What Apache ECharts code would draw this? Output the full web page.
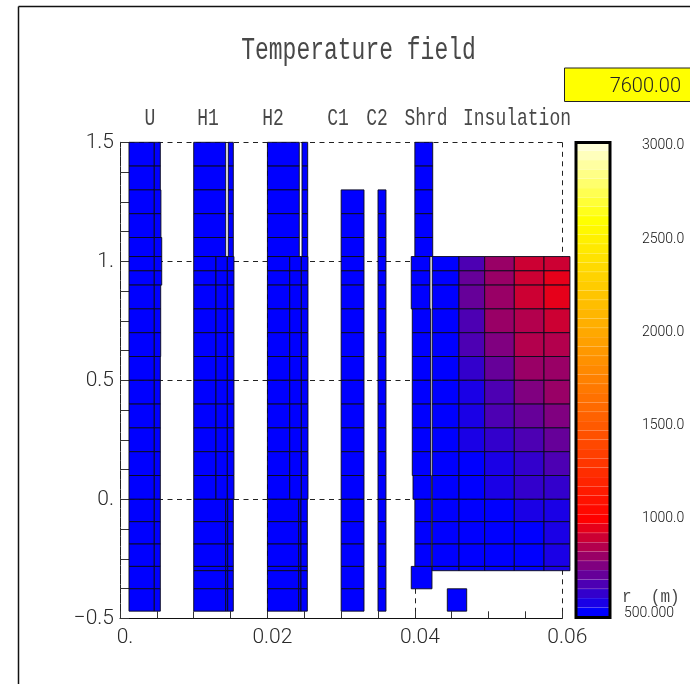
<!DOCTYPE html>
<html>
<head>
<meta charset="utf-8">
<style>html,body{margin:0;padding:0;background:#fff}#chart{width:690px;height:684px}</style>
<script src="https://cdn.jsdelivr.net/npm/echarts@6/dist/echarts.min.js"></script>
</head>
<body>
<div id="chart"></div>
<script>
// ---- Text ----
const chartTitle = 'Temperature field';
const timeValue = '7600.00';
const regionLabels = ['U', 'H1', 'H2', 'C1', 'C2', 'Shrd', 'Insulation'];
const regionLabelCentres = [150, 208, 273, 338, 377, 426, 517];
const xTickLabels = {0: '0.', 0.02: '0.02', 0.04: '0.04', 0.06: '0.06'};
const yTickLabels = {'-0.5': '\u22120.5', 0: '0.', 0.5: '0.5', 1: '1.', 1.5: '1.5'};
const barTicks = [1000, 1500, 2000, 2500, 3000];

// ---- Row edges (m) ----
const upperRows = [1.5, 1.4, 1.3, 1.2, 1.1, 1.02];
const shortUpperRows = [1.3, 1.2, 1.1, 1.02];
const middleRows = [1.02, 0.96, 0.9, 0.8, 0.7, 0.6, 0.5, 0.4, 0.3, 0.2, 0.1, 0];
const lowerRows = [0, -0.094, -0.188, -0.282, -0.376, -0.47];
const coilLowerRows = [0, -0.094, -0.188, -0.282, -0.3, -0.376, -0.47];
const insulationRows = [1.02, 0.96, 0.9, 0.8, 0.7, 0.6, 0.5, 0.4, 0.3, 0.2, 0.1, 0, -0.094, -0.188, -0.282, -0.3];

// ---- Column edges (m) ----
const uMain = [0.00122, 0.00465];
const uOuterRight = [0.00547, 0.00555, 0.00566, 0.00552, 0.00547];
const h1Upper = [[0.01, 0.01434], [0.01469, 0.01537]];
const h1Middle = [0.01, 0.01302, 0.01456, 0.01546];
const h1Lower = [0.01, 0.01434, 0.01461, 0.01537];
const h2Upper = [[0.02, 0.02432], [0.02469, 0.02546]];
const h2Middle = [0.02, 0.02302, 0.0246, 0.0255];
const h2Lower = [0.02, 0.02424, 0.02455, 0.02541];
const c1Cols = [0.03, 0.0331];
const c2Cols = [0.035, 0.03608];
const insulationCols = [0.04236, 0.04599, 0.04947, 0.05349, 0.05752, 0.06104];

// ---- Insulation temperatures, row by row (K) ----
const insulationTemps = [
  [500, 650, 800, 900, 900],
  [500, 700, 800, 900, 950],
  [500, 700, 800, 900, 950],
  [500, 650, 800, 850, 900],
  [500, 650, 750, 850, 850],
  [500, 600, 700, 800, 800],
  [500, 550, 650, 750, 800],
  [500, 550, 650, 700, 750],
  [500, 550, 600, 650, 700],
  [500, 500, 550, 600, 650],
  [500, 500, 550, 600, 600],
  [500, 500, 500, 550, 550],
  [500, 500, 500, 500, 550],
  [500, 500, 500, 500, 550],
  [500, 500, 500, 500, 550]
];

// ---- Colour scale ----
const scaleTemps = [500, 1000, 1500, 2000, 2500, 2600, 3000];
const scaleColors = [[0, 0, 255], [255, 0, 0], [255, 90, 0], [255, 168, 0], [255, 240, 0], [255, 255, 0], [255, 255, 215]];
const barBands = [500, 550, 600, 650, 700, 750, 800, 850, 900, 950, 1000, 1050, 1100, 1150, 1200, 1250, 1300, 1350, 1400, 1450, 1500,
  1550, 1600, 1650, 1700, 1750, 1800, 1850, 1900, 1950, 2000, 2050, 2100, 2150, 2200, 2250, 2300, 2350, 2400, 2450, 2500,
  2550, 2600, 2650, 2700, 2750, 2800, 2850, 2900, 2950, 3000];

function tempColor(t) {
  for (let i = 1; i < scaleTemps.length; i++) {
    if (t <= scaleTemps[i]) {
      const f = (t - scaleTemps[i - 1]) / (scaleTemps[i] - scaleTemps[i - 1]);
      const c = scaleColors[i - 1].map((v, k) => Math.round(v + (scaleColors[i][k] - v) * f));
      return 'rgb(' + c.join(',') + ')';
    }
  }
  return 'rgb(' + scaleColors[scaleColors.length - 1].join(',') + ')';
}

// ---- Build mesh cells: [x0, x1, y0, y1, temperature] ----
const cells = [];
function addGrid(xs, ys, temp) {
  for (let i = 0; i + 1 < xs.length; i++) {
    for (let j = 0; j + 1 < ys.length; j++) {
      cells.push([xs[i], xs[i + 1], ys[j], ys[j + 1], temp]);
    }
  }
}
const cold = 500;
// U
addGrid(uMain, [1.5, 1.4, 1.3, 1.2, 1.1, 1.02, 0.96, 0.9, 0.8, 0.7, 0.6, 0.5, 0.4, 0.3, 0.2, 0.1, 0, -0.094, -0.188, -0.282, -0.376, -0.47], cold);
addGrid([uMain[1], uOuterRight[0]], [1.5, 1.4, 1.3], cold);
addGrid([uMain[1], uOuterRight[1]], [1.3, 1.2, 1.1], cold);
addGrid([uMain[1], uOuterRight[2]], [1.1, 1.02, 0.96, 0.9], cold);
addGrid([uMain[1], uOuterRight[3]], [0.9, 0.8, 0.7, 0.6], cold);
addGrid([uMain[1], uOuterRight[4]], [0.6, 0.5, 0.4, 0.3, 0.2, 0.1, 0, -0.094, -0.188, -0.282, -0.376, -0.47], cold);
// H1
h1Upper.forEach(c => addGrid(c, upperRows, cold));
addGrid(h1Middle, middleRows, cold);
addGrid(h1Lower, coilLowerRows, cold);
// H2
h2Upper.forEach(c => addGrid(c, upperRows, cold));
addGrid(h2Middle, middleRows, cold);
addGrid(h2Lower, coilLowerRows, cold);
// C1, C2
[c1Cols, c2Cols].forEach(c => {
  addGrid(c, shortUpperRows, cold);
  addGrid(c, middleRows, cold);
  addGrid(c, lowerRows, cold);
});
// Shroud
addGrid([0.04, 0.04242], upperRows, cold);
addGrid([0.03951, 0.04205], [1.02, 0.96, 0.9, 0.8], cold);
addGrid([0.03965, 0.04215], [0.8, 0.7, 0.6, 0.5, 0.4, 0.3, 0.2, 0.1], cold);
addGrid([0.03975, 0.04223], [0.1, 0], cold);
addGrid([0.04, 0.04223], [0, -0.094, -0.188, -0.282], cold);
addGrid([0.03951, 0.04232], [-0.282, -0.376], cold);
addGrid([0.0444, 0.04703], [-0.376, -0.47], cold);
// Insulation
insulationTemps.forEach((row, j) => row.forEach((t, i) => {
  cells.push([insulationCols[i], insulationCols[i + 1], insulationRows[j], insulationRows[j + 1], t]);
}));

const mono = '"Liberation Mono", monospace';
const textCol = '#2a2a2a';
const headCol = '#484848';

const chart = echarts.init(document.getElementById('chart'), null, {renderer: 'canvas'});
chart.setOption({
  animation: false,
  backgroundColor: '#fff',
  grid: [
    {left: 120, top: 142.3, width: 442.3, height: 476, containLabel: false},
    {left: 576, top: 141.3, width: 34, height: 475.4}
  ],
  xAxis: [
    {
      type: 'value', gridIndex: 0, min: 0, max: 0.06, interval: 0.02,
      axisLine: {show: true, onZero: false, lineStyle: {color: '#111', width: 1}},
      axisTick: {show: true, inside: true, length: 7, lineStyle: {color: '#333'}},
      minorTick: {show: true, splitNumber: 4, length: 7, lineStyle: {color: '#333'}},
      splitLine: {show: true, lineStyle: {color: '#222', type: [5, 4.5], width: 1}},
      axisLabel: {
        show: true, margin: 9, color: textCol, fontFamily: 'Roboto', fontWeight: 300, fontSize: 21, padding: [0, 0, 0, 10],
        formatter: v => xTickLabels[v] || ''
      }
    },
    {type: 'value', gridIndex: 1, min: 0, max: 1, show: false}
  ],
  yAxis: [
    {
      type: 'value', gridIndex: 0, min: -0.5, max: 1.5, interval: 0.5,
      axisLine: {show: true, onZero: false, lineStyle: {color: '#222', type: [5, 4.5], width: 1}},
      axisTick: {show: true, inside: true, length: 9, lineStyle: {color: '#333'}},
      minorTick: {show: true, splitNumber: 4, length: 9, lineStyle: {color: '#333'}},
      splitLine: {show: true, lineStyle: {color: '#222', type: [5, 4.5], width: 1}},
      axisLabel: {
        show: true, margin: 6, color: textCol, fontFamily: 'Roboto', fontWeight: 300, fontSize: 21,
        formatter: v => yTickLabels[v] || ''
      }
    },
    {
      type: 'value', gridIndex: 1, min: 475, max: 3025, position: 'right',
      axisLine: {show: false}, axisTick: {show: false}, splitLine: {show: false},
      axisLabel: {
        show: true, margin: 32, align: 'left', color: '#111', fontFamily: 'Roboto', fontWeight: 300, fontSize: 14,
        padding: [3, 0, 0, 0],
        customValues: barTicks,
        formatter: v => v.toFixed(1)
      }
    }
  ],
  series: [
    {
      type: 'custom', name: 'Temperature', xAxisIndex: 0, yAxisIndex: 0, clip: false,
      encode: {x: [0, 1], y: [2, 3]},
      data: cells,
      renderItem: (params, api) => {
        const a = api.coord([api.value(0), api.value(2)]);
        const b = api.coord([api.value(1), api.value(3)]);
        return {
          type: 'rect',
          shape: {x: a[0], y: a[1], width: b[0] - a[0], height: b[1] - a[1]},
          style: {fill: tempColor(api.value(4)), stroke: 'rgba(10,10,25,0.9)', lineWidth: 1}
        };
      }
    },
    {
      type: 'custom', name: 'Scale', xAxisIndex: 1, yAxisIndex: 1, clip: false,
      encode: {y: 0},
      data: barBands.map(t => [t]),
      renderItem: (params, api) => {
        const t = api.value(0);
        const a = api.coord([0, t - 25]);
        const b = api.coord([1, t + 25]);
        return {
          type: 'group',
          children: [
            {type: 'rect', shape: {x: a[0], y: b[1], width: b[0] - a[0], height: a[1] - b[1]}, style: {fill: tempColor(t)}},
            {type: 'line', shape: {x1: a[0], y1: b[1], x2: b[0], y2: b[1]}, style: {stroke: 'rgba(255,255,255,0.2)', lineWidth: 1}}
          ]
        };
      }
    }
  ],
  graphic: [
    {type: 'line', silent: true, shape: {x1: 18.5, y1: 6.5, x2: 690, y2: 6.5}, style: {stroke: '#111', lineWidth: 1.5}},
    {type: 'line', silent: true, shape: {x1: 18.5, y1: 6.5, x2: 18.5, y2: 684}, style: {stroke: '#111', lineWidth: 1.5}},
    {type: 'text', silent: true, x: 358.5, y: 51, scaleY: 1.35, style: {text: chartTitle, fill: headCol, font: '23px ' + mono, align: 'center', verticalAlign: 'middle'}},
    {type: 'rect', silent: true, shape: {x: 564.5, y: 68, width: 130, height: 33.5}, style: {fill: '#ffff00', stroke: '#222', lineWidth: 1}},
    {type: 'text', silent: true, x: 681, y: 87, style: {text: timeValue, fill: '#222', font: '300 20px Roboto', align: 'right', verticalAlign: 'middle'}},
    ...regionLabels.map((s, i) => ({
      type: 'text', silent: true, x: regionLabelCentres[i], y: 119, scaleY: 1.3,
      style: {text: s, fill: headCol, font: '18px ' + mono, align: 'center', verticalAlign: 'middle'}
    })),
    {type: 'rect', silent: true, z: 100, shape: {x: 576, y: 142.5, width: 34, height: 475}, style: {fill: 'transparent', stroke: '#000', lineWidth: 3}},
    {type: 'text', silent: true, x: 622, y: 597, scaleY: 1.2, style: {text: 'r  (m)', fill: headCol, font: '16px ' + mono, align: 'left', verticalAlign: 'middle'}},
    {type: 'text', silent: true, x: 624, y: 613, style: {text: '500.000', fill: '#111', font: '300 14px Roboto', align: 'left', verticalAlign: 'middle'}}
  ]
});
</script>
</body>
</html>
